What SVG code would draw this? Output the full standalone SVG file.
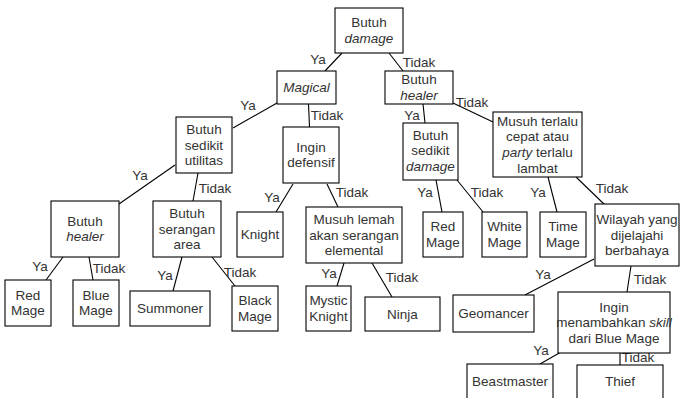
<svg xmlns="http://www.w3.org/2000/svg" width="680" height="398" viewBox="0 0 680 398">
<style>
rect{fill:#fff;stroke:#000;stroke-width:1.1}
text{font-family:"Liberation Sans",Arial,sans-serif;font-size:13.5px;fill:#333;text-anchor:middle}
.i{font-style:italic}
#edges line{stroke:#000;stroke-width:1.1}
</style>
<rect x="0" y="0" width="680" height="398" style="fill:#fff;stroke:none"/>
<g id="edges">
<line x1="342" y1="53" x2="325" y2="71"/><text x="318" y="64">Ya</text>
<line x1="389" y1="53" x2="403" y2="71"/><text x="419" y="67">Tidak</text>
<line x1="277" y1="103" x2="233" y2="128"/><text x="248" y="110">Ya</text>
<line x1="308.5" y1="104" x2="309.5" y2="127"/><text x="327" y="120">Tidak</text>
<line x1="175" y1="165" x2="119" y2="204"/><text x="140" y="180">Ya</text>
<line x1="198" y1="173" x2="193" y2="201"/><text x="215" y="193">Tidak</text>
<line x1="293" y1="184" x2="276" y2="212"/><text x="272" y="202">Ya</text>
<line x1="327" y1="184" x2="338" y2="207"/><text x="352" y="197">Tidak</text>
<line x1="423" y1="104" x2="425" y2="123"/><text x="412" y="120">Ya</text>
<line x1="453" y1="103" x2="493" y2="122"/><text x="472" y="107">Tidak</text>
<line x1="436" y1="180" x2="442" y2="212"/><text x="425" y="197">Ya</text>
<line x1="457" y1="180" x2="483" y2="212"/><text x="487" y="197">Tidak</text>
<line x1="548" y1="177" x2="557" y2="212"/><text x="538" y="197">Ya</text>
<line x1="576" y1="177" x2="605" y2="205"/><text x="612" y="193">Tidak</text>
<line x1="63" y1="257" x2="46" y2="280"/><text x="40" y="271">Ya</text>
<line x1="89" y1="257" x2="93" y2="280"/><text x="109" y="273">Tidak</text>
<line x1="182" y1="257" x2="173" y2="291"/><text x="165" y="280">Ya</text>
<line x1="212" y1="257" x2="235" y2="286"/><text x="240" y="277">Tidak</text>
<line x1="344" y1="263" x2="337" y2="286"/><text x="329" y="278">Ya</text>
<line x1="372" y1="263" x2="392" y2="297"/><text x="402" y="282">Tidak</text>
<line x1="594" y1="259" x2="525" y2="295"/><text x="543" y="279">Ya</text>
<line x1="631" y1="266" x2="627" y2="292"/><text x="650" y="284">Tidak</text>
<line x1="568" y1="348" x2="540" y2="364"/><text x="541" y="355">Ya</text>
<line x1="620" y1="353" x2="620" y2="365"/><text x="638" y="362">Tidak</text>
</g>
<g id="n-damage"><rect x="335" y="8" width="68" height="45"/><text x="369" y="27.3">Butuh</text><text class="i" x="369" y="42.9">damage</text></g>
<g id="n-magical"><rect x="277" y="71" width="59" height="33"/><text class="i" x="306.5" y="92">Magical</text></g>
<g id="n-healer1"><rect x="385" y="71" width="68" height="33"/><text x="419" y="84.3">Butuh</text><text class="i" x="419" y="99.9">healer</text></g>
<g id="n-utilitas"><rect x="176" y="117" width="56" height="56"/><text x="204" y="134">Butuh</text><text x="204" y="149.6">sedikit</text><text x="204" y="165.2">utilitas</text></g>
<g id="n-defensif"><rect x="283" y="127" width="56" height="56"/><text x="311" y="151.8">Ingin</text><text x="311" y="167.4">defensif</text></g>
<g id="n-sdamage"><rect x="403" y="123" width="55" height="57"/><text x="430.5" y="139.5">Butuh</text><text x="430.5" y="155.1">sedikit</text><text class="i" x="430.5" y="170.7">damage</text></g>
<g id="n-terlalu"><rect x="493" y="112" width="89" height="65"/><text x="537.5" y="125.7">Musuh terlalu</text><text x="537.5" y="141.3">cepat atau</text><text x="537.5" y="156.9"><tspan class="i">party</tspan> terlalu</text><text x="537.5" y="172.5">lambat</text></g>
<g id="n-healer2"><rect x="51" y="201" width="68" height="56"/><text x="85" y="225.8">Butuh</text><text class="i" x="85" y="241.4">healer</text></g>
<g id="n-serangan"><rect x="153" y="201" width="68" height="56"/><text x="187" y="218">Butuh</text><text x="187" y="233.6">serangan</text><text x="187" y="249.2">area</text></g>
<g id="n-knight"><rect x="237" y="212" width="46" height="45"/><text x="260" y="239">Knight</text></g>
<g id="n-lemah"><rect x="306" y="207" width="96" height="56"/><text x="354" y="224">Musuh lemah</text><text x="354" y="239.6">akan serangan</text><text x="354" y="255.2">elemental</text></g>
<g id="n-redmage2"><rect x="423" y="212" width="40" height="45"/><text x="443" y="231.3">Red</text><text x="443" y="246.9">Mage</text></g>
<g id="n-whitemage"><rect x="482" y="212" width="45" height="45"/><text x="504.5" y="231.3">White</text><text x="504.5" y="246.9">Mage</text></g>
<g id="n-timemage"><rect x="540" y="212" width="46" height="45"/><text x="563" y="231.3">Time</text><text x="563" y="246.9">Mage</text></g>
<g id="n-wilayah"><rect x="595" y="204" width="84" height="62"/><text x="637" y="224">Wilayah yang</text><text x="637" y="239.6">dijelajahi</text><text x="637" y="255.2">berbahaya</text></g>
<g id="n-redmage1"><rect x="5" y="280" width="46" height="46"/><text x="28" y="299.8">Red</text><text x="28" y="315.4">Mage</text></g>
<g id="n-bluemage"><rect x="73" y="280" width="46" height="46"/><text x="96" y="299.8">Blue</text><text x="96" y="315.4">Mage</text></g>
<g id="n-summoner"><rect x="130" y="291" width="80" height="35"/><text x="170" y="313">Summoner</text></g>
<g id="n-blackmage"><rect x="232" y="286" width="46" height="45"/><text x="255" y="305.3">Black</text><text x="255" y="320.9">Mage</text></g>
<g id="n-mystic"><rect x="306" y="286" width="45" height="45"/><text x="328.5" y="305.3">Mystic</text><text x="328.5" y="320.9">Knight</text></g>
<g id="n-ninja"><rect x="365" y="297" width="75" height="34"/><text x="402.5" y="318.5">Ninja</text></g>
<g id="n-geomancer"><rect x="453" y="295" width="81" height="37"/><text x="493.5" y="318">Geomancer</text></g>
<g id="n-ingin"><rect x="558" y="292" width="112" height="61"/><text x="614" y="311.5">Ingin</text><text x="614" y="327.1">menambahkan <tspan class="i">skill</tspan></text><text x="614" y="342.7">dari Blue Mage</text></g>
<g id="n-beastmaster"><rect x="467" y="364" width="86" height="40"/><text x="510" y="385.7">Beastmaster</text></g>
<g id="n-thief"><rect x="577" y="365" width="86" height="40"/><text x="620" y="385.7">Thief</text></g>
</svg>
